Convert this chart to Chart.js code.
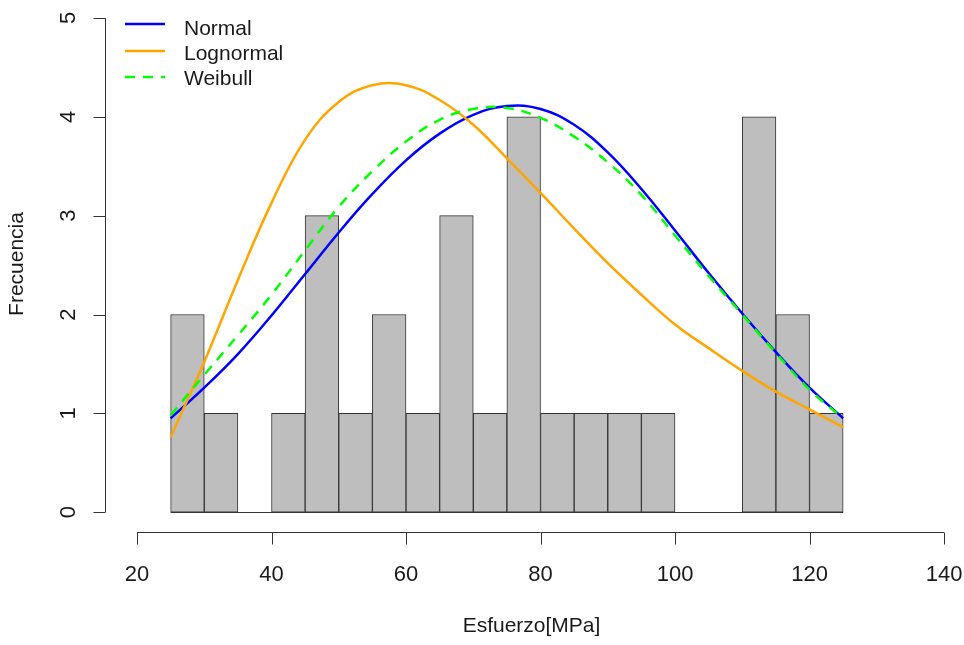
<!DOCTYPE html>
<html>
<head>
<meta charset="utf-8">
<script src="https://cdn.jsdelivr.net/npm/chart.js@4/dist/chart.umd.min.js"></script>
<style>
  html, body { margin: 0; padding: 0; background: #ffffff; }
  #wrap { width: 964px; height: 645px; }
</style>
</head>
<body>
<div id="wrap"><canvas id="c" width="964" height="645"></canvas></div>
<script>
// ---- Data ----
const binStarts = [25,30,35,40,45,50,55,60,65,70,75,80,85,90,95,100,105,110,115,120];
const binWidth = 5;
const counts = [2,1,0,1,3,1,2,1,3,1,4,1,1,1,1,0,0,4,2,1];

const curveX = [25,30,35,40,45,50,55,60,65,70,75,80,85,90,95,100,105,110,115,120,125];
const normalY = [0.95,1.26,1.60,1.99,2.41,2.83,3.22,3.56,3.83,4.02,4.11,4.08,3.92,3.64,3.27,2.85,2.42,2.01,1.62,1.26,0.95];
const lognormalY = [0.76,1.52,2.35,3.13,3.77,4.15,4.32,4.32,4.17,3.92,3.58,3.23,2.87,2.52,2.20,1.90,1.66,1.43,1.22,1.04,0.86];
const weibullY = [0.98,1.39,1.79,2.20,2.65,3.09,3.45,3.75,3.97,4.08,4.09,3.99,3.80,3.54,3.21,2.80,2.39,2.00,1.61,1.24,0.95];

const xTicks = [20,40,60,80,100,120,140];
const yTicks = [0,1,2,3,4,5];
const xTitle = 'Esfuerzo[MPa]';
const yTitle = 'Frecuencia';
const legendLabels = ['Normal','Lognormal','Weibull'];
const legendColors = ['#0000FF','#FFA500','#00FF00'];

// ---- Build datasets ----
const barData = binStarts.map((s, i) => ({ x: s + binWidth / 2, y: counts[i] }));
const toPts = ys => curveX.map((x, i) => ({ x: x, y: ys[i] }));

const FONT = '"Liberation Sans", Arial, Helvetica, sans-serif';
const AXIS = '#333333';

const rAxes = {
  id: 'rAxes',
  beforeDatasetsDraw(chart) {
    const ctx = chart.ctx, xs = chart.scales.x, ys = chart.scales.y;
    ctx.save();
    ctx.strokeStyle = AXIS; ctx.lineWidth = 1;
    const y0 = Math.round(ys.getPixelForValue(0)) + 0.5;
    ctx.beginPath();
    ctx.moveTo(xs.getPixelForValue(binStarts[0]), y0);
    ctx.lineTo(xs.getPixelForValue(binStarts[binStarts.length - 1] + binWidth), y0);
    ctx.stroke();
    ctx.restore();
  },
  afterDraw(chart) {
    const ctx = chart.ctx, xs = chart.scales.x, ys = chart.scales.y, ca = chart.chartArea;
    ctx.save();
    ctx.strokeStyle = AXIS; ctx.lineWidth = 1;
    const tl = 12;
    // x axis
    const ax = Math.round(ca.bottom) + 0.5;
    ctx.beginPath();
    ctx.moveTo(xs.getPixelForValue(xTicks[0]), ax);
    ctx.lineTo(xs.getPixelForValue(xTicks[xTicks.length - 1]), ax);
    xTicks.forEach(t => {
      const px = Math.round(xs.getPixelForValue(t)) + 0.5;
      ctx.moveTo(px, ax); ctx.lineTo(px, ax + tl);
    });
    ctx.stroke();
    // y axis
    const ay = Math.round(ca.left) + 0.5;
    ctx.beginPath();
    ctx.moveTo(ay, ys.getPixelForValue(yTicks[0]));
    ctx.lineTo(ay, ys.getPixelForValue(yTicks[yTicks.length - 1]));
    yTicks.forEach(t => {
      const py = Math.round(ys.getPixelForValue(t)) + 0.5;
      ctx.moveTo(ay, py); ctx.lineTo(ay - tl, py);
    });
    ctx.stroke();

    ctx.fillStyle = '#1a1a1a';
    ctx.font = '22px ' + FONT;
    ctx.textAlign = 'center';
    ctx.textBaseline = 'alphabetic';
    xTicks.forEach(t => {
      ctx.fillText(String(t), xs.getPixelForValue(t), 581);
    });
    yTicks.forEach(t => {
      ctx.save();
      ctx.translate(75, ys.getPixelForValue(t));
      ctx.rotate(-Math.PI / 2);
      ctx.fillText(String(t), 0, 0);
      ctx.restore();
    });
    // titles
    ctx.font = '21px ' + FONT;
    ctx.fillText(xTitle, (ca.left + ca.right) / 2 - 3, 632);
    ctx.save();
    ctx.translate(23, 264);
    ctx.rotate(-Math.PI / 2);
    ctx.fillText(yTitle, 0, 0);
    ctx.restore();

    // legend
    const lineYs = [24, 51, 77];
    const textYs = [35, 60, 85];
    ctx.textAlign = 'left';
    legendLabels.forEach((lab, i) => {
      ctx.save();
      ctx.strokeStyle = legendColors[i];
      ctx.lineWidth = 2.5;
      if (i === 2) ctx.setLineDash([10, 8]);
      ctx.beginPath();
      ctx.moveTo(125, lineYs[i]); ctx.lineTo(165, lineYs[i]);
      ctx.stroke();
      ctx.restore();
      ctx.fillText(lab, 184, textYs[i]);
    });
    ctx.restore();
  }
};

new Chart(document.getElementById('c'), {
  data: {
    datasets: [
      {
        type: 'bar', label: 'hist', data: barData, order: 4,
        backgroundColor: '#BEBEBE', borderColor: AXIS, borderWidth: 1,
        borderSkipped: false, barPercentage: 1.0, categoryPercentage: 1.0
      },
      {
        type: 'line', label: legendLabels[0], data: toPts(normalY), order: 3,
        borderColor: legendColors[0], borderWidth: 2.5, pointRadius: 0, tension: 0.4, fill: false
      },
      {
        type: 'line', label: legendLabels[1], data: toPts(lognormalY), order: 2,
        borderColor: legendColors[1], borderWidth: 2.5, pointRadius: 0, tension: 0.4, fill: false
      },
      {
        type: 'line', label: legendLabels[2], data: toPts(weibullY), order: 1,
        borderColor: legendColors[2], borderWidth: 2.5, borderDash: [10, 8], pointRadius: 0, tension: 0.4, fill: false
      }
    ]
  },
  options: {
    responsive: false,
    animation: false,
    layout: { padding: { left: 105, right: 0, top: 0, bottom: 113 } },
    plugins: { legend: { display: false }, tooltip: { enabled: false } },
    scales: {
      x: { type: 'linear', min: 15.24, max: 142.97, display: false, offset: false },
      y: { type: 'linear', min: -0.2, max: 5.182, display: false }
    }
  },
  plugins: [rAxes]
});
</script>
</body>
</html>
